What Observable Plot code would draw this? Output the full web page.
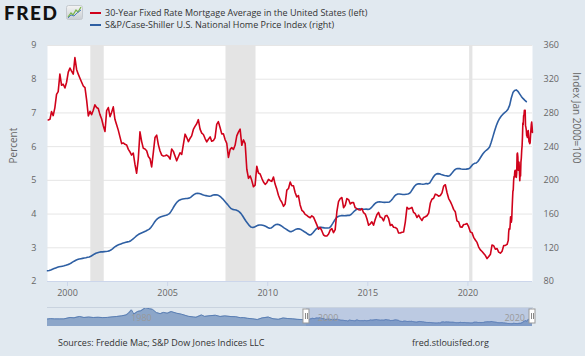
<!DOCTYPE html>
<html>
<head>
<meta charset="utf-8">
<script src="https://cdn.jsdelivr.net/npm/d3@7"></script>
<script src="https://cdn.jsdelivr.net/npm/@observablehq/plot@0.6"></script>
<style>
  html, body { margin: 0; padding: 0; background: #e1e9f0; }
  #chart { position: relative; width: 585px; height: 356px; overflow: hidden; background: #e1e9f0;
           font-family: "Open Sans", sans-serif; color: #333; }
  .logo { position: absolute; left: 4px; top: 1px; font-family: "Lato", sans-serif; font-weight: 900;
          font-size: 19px; letter-spacing: 1.5px; color: #111; line-height: 24px; }
  .logo-icon { position: absolute; left: 66px; top: 5px; }
  .legend { position: absolute; left: 90px; font-size: 9px; line-height: 12px; white-space: nowrap; }
  .legend .swatch { display: inline-block; width: 11px; height: 0; border-top: 2px solid; vertical-align: middle;
                    margin-right: 4px; position: relative; top: -1px; }
  .footer { position: absolute; top: 337px; font-size: 9px; line-height: 12px; color: #333; white-space: nowrap; }
  #main { position: absolute; left: 0; top: 0; }
  #nav { position: absolute; left: 0; top: 306px; }
</style>
</head>
<body>
<div id="chart">
  <div class="logo">FRED</div>
  <svg class="logo-icon" width="17" height="15" viewBox="0 0 17 15">
    <defs>
      <linearGradient id="ic" x1="0" y1="0" x2="0" y2="1">
        <stop offset="0" stop-color="#f4f4f4"/><stop offset="1" stop-color="#c9ced3"/>
      </linearGradient>
    </defs>
    <rect x="0.5" y="0.5" width="16" height="14" rx="2" fill="url(#ic)" stroke="#c4c9ce"/>
    <polyline points="2,12 5,8 7,10 10,5 12,7 15,2" fill="none" stroke="#7ab648" stroke-width="1.2"/>
    <polyline points="2,13 5,10 8,11 11,8 15,5" fill="none" stroke="#4f7fb8" stroke-width="1"/>
  </svg>
  <div class="legend" style="top:7px"><span class="swatch" style="border-color:#d0021b"></span>30-Year Fixed Rate Mortgage Average in the United States (left)</div>
  <div class="legend" style="top:19px"><span class="swatch" style="border-color:#2e5fa3"></span>S&amp;P/Case-Shiller U.S. National Home Price Index (right)</div>
  <div id="main"></div>
  <div id="nav"></div>
  <div class="footer" style="left:58px">Sources: Freddie Mac; S&amp;P Dow Jones Indices LLC</div>
  <div class="footer" style="left:412px">fred.stlouisfed.org</div>
</div>
<script>
// 30-year fixed mortgage rate, percent, one value per month from Jan 1999 to Dec 2021
const mortgageMonthly = [
  6.79, 6.81, 7.04, 6.92, 7.15, 7.55, 7.63, 8.15, 7.82, 7.85, 7.74, 7.91,
  8.21, 8.33, 8.24, 8.15, 8.64, 8.29, 8.15, 8.03, 7.91, 7.80, 7.75, 7.38,
  6.91, 7.05, 6.95, 7.08, 7.24, 7.16, 7.13, 6.95, 6.82, 6.62, 6.45, 7.07,
  7.16, 6.89, 7.01, 7.18, 6.81, 6.65, 6.49, 6.29, 6.09, 6.11, 6.07, 6.05,
  5.92, 5.84, 5.75, 5.81, 5.48, 5.21, 5.63, 6.44, 6.15, 5.95, 5.93, 5.88,
  5.71, 5.64, 5.40, 5.83, 6.27, 6.34, 6.06, 5.87, 5.75, 5.72, 5.73, 5.75,
  5.71, 5.63, 5.93, 5.86, 5.72, 5.58, 5.70, 5.82, 5.77, 6.07, 6.37, 6.27,
  6.15, 6.25, 6.32, 6.51, 6.60, 6.68, 6.80, 6.52, 6.40, 6.36, 6.24, 6.14,
  6.22, 6.29, 6.16, 6.18, 6.26, 6.66, 6.74, 6.57, 6.38, 6.38, 6.21, 6.10,
  5.68, 5.92, 5.97, 5.92, 6.04, 6.32, 6.43, 6.52, 6.04, 6.20, 6.09, 5.33,
  5.06, 5.13, 5.00, 4.81, 4.86, 5.42, 5.22, 5.19, 5.06, 4.95, 4.88, 4.93,
  5.03, 4.99, 4.97, 5.10, 4.89, 4.74, 4.56, 4.43, 4.35, 4.23, 4.30, 4.71,
  4.76, 4.95, 4.84, 4.84, 4.64, 4.51, 4.55, 4.27, 4.11, 4.07, 3.99, 3.96,
  3.92, 3.89, 3.95, 3.91, 3.80, 3.68, 3.55, 3.60, 3.50, 3.38, 3.35, 3.35,
  3.41, 3.53, 3.57, 3.45, 3.54, 4.07, 4.37, 4.46, 4.49, 4.19, 4.26, 4.46,
  4.43, 4.30, 4.34, 4.34, 4.19, 4.16, 4.13, 4.12, 4.16, 4.04, 4.00, 3.86,
  3.67, 3.71, 3.77, 3.67, 3.84, 3.98, 4.05, 3.91, 3.89, 3.80, 3.94, 3.96,
  3.87, 3.66, 3.69, 3.61, 3.60, 3.57, 3.44, 3.44, 3.46, 3.47, 3.77, 4.20,
  4.15, 4.17, 4.20, 4.05, 4.01, 3.90, 3.97, 3.88, 3.81, 3.90, 3.92, 3.95,
  4.03, 4.33, 4.44, 4.47, 4.59, 4.57, 4.53, 4.55, 4.63, 4.83, 4.87, 4.64,
  4.46, 4.37, 4.27, 4.14, 4.07, 3.80, 3.77, 3.62, 3.61, 3.69, 3.70, 3.72,
  3.62, 3.47, 3.45, 3.31, 3.23, 3.16, 3.02, 2.94, 2.89, 2.83, 2.77, 2.68,
  2.74, 2.81, 3.08, 3.06, 2.96, 2.98, 2.87, 2.84, 2.90, 3.07, 3.07, 3.10
];

// Weekly readings of the same rate, Jan 2022 to Mar 2023
const mortgageWeeklyDates = [
  "2022-01-06","2022-01-13","2022-01-20","2022-01-27","2022-02-03","2022-02-10","2022-02-17","2022-02-24",
  "2022-03-03","2022-03-10","2022-03-17","2022-03-24","2022-03-31","2022-04-07","2022-04-14","2022-04-21",
  "2022-04-28","2022-05-05","2022-05-12","2022-05-19","2022-05-26","2022-06-02","2022-06-09","2022-06-16",
  "2022-06-23","2022-06-30","2022-07-07","2022-07-14","2022-07-21","2022-07-28","2022-08-04","2022-08-11",
  "2022-08-18","2022-08-25","2022-09-01","2022-09-08","2022-09-15","2022-09-22","2022-09-29","2022-10-06",
  "2022-10-13","2022-10-20","2022-10-27","2022-11-03","2022-11-10","2022-11-17","2022-11-23","2022-12-01",
  "2022-12-08","2022-12-15","2022-12-22","2022-12-29","2023-01-05","2023-01-12","2023-01-19","2023-01-26",
  "2023-02-02","2023-02-09","2023-02-16","2023-02-23","2023-03-02","2023-03-09","2023-03-16","2023-03-23"
];
const mortgageWeeklyRates = [
  3.22, 3.45, 3.56, 3.55, 3.55, 3.69, 3.92, 3.89,
  3.76, 3.85, 4.16, 4.42, 4.67, 4.72, 5.00, 5.11,
  5.10, 5.27, 5.30, 5.25, 5.10, 5.09, 5.23, 5.78,
  5.81, 5.70, 5.30, 5.51, 5.54, 5.30, 4.99, 5.22,
  5.13, 5.55, 5.66, 5.89, 6.02, 6.29, 6.70, 6.66,
  6.92, 6.94, 7.08, 6.95, 7.08, 6.61, 6.58, 6.49,
  6.33, 6.31, 6.27, 6.42, 6.48, 6.33, 6.15, 6.13,
  6.09, 6.12, 6.32, 6.50, 6.65, 6.73, 6.60, 6.42
];

// S&P/Case-Shiller U.S. National Home Price Index (Jan 2000 = 100), monthly, Jan 1999 to Dec 2022
const homePriceIndex = [
  92.7, 93.0, 93.6, 94.5, 95.3, 96.1, 96.8, 97.4, 97.8, 98.2, 98.6, 99.2,
  100.0, 100.6, 101.6, 102.9, 104.1, 105.2, 106.0, 106.6, 107.0, 107.4, 107.8, 108.2,
  108.7, 109.1, 109.9, 111.1, 112.4, 113.5, 114.2, 114.8, 115.1, 115.2, 115.4, 115.6,
  115.9, 116.3, 117.3, 118.8, 120.4, 121.9, 123.0, 123.9, 124.6, 125.3, 125.9, 126.5,
  127.0, 127.4, 128.4, 129.9, 131.6, 133.4, 135.0, 136.3, 137.3, 138.2, 139.1, 140.0,
  141.0, 142.1, 144.1, 146.9, 149.9, 152.6, 154.6, 155.9, 156.8, 157.5, 158.1, 158.6,
  159.3, 160.5, 162.9, 166.2, 169.6, 172.6, 174.9, 176.5, 177.4, 177.9, 178.2, 178.4,
  178.6, 179.0, 180.2, 181.9, 183.4, 184.4, 184.6, 184.4, 183.7, 182.9, 182.3, 181.9,
  181.5, 181.1, 181.4, 182.2, 182.8, 183.0, 182.6, 181.6, 180.0, 178.1, 175.8, 173.5,
  171.2, 168.6, 166.6, 165.6, 165.2, 164.8, 164.0, 162.6, 160.5, 157.7, 154.5, 151.5,
  148.9, 146.2, 144.6, 144.0, 144.5, 145.6, 146.6, 147.1, 147.1, 146.8, 146.1, 145.2,
  144.1, 143.1, 143.4, 144.9, 146.6, 147.6, 147.8, 147.3, 146.2, 144.8, 143.4, 142.2,
  140.8, 139.5, 139.1, 139.8, 141.0, 142.1, 142.6, 142.4, 141.6, 140.3, 139.0, 137.9,
  136.3, 135.1, 135.6, 137.5, 140.0, 142.3, 143.7, 144.3, 144.2, 143.9, 143.6, 143.5,
  143.4, 143.8, 145.7, 148.9, 152.3, 155.1, 156.9, 157.8, 158.1, 158.1, 158.0, 158.2,
  158.4, 158.5, 159.5, 161.5, 163.6, 165.2, 166.0, 166.2, 166.1, 165.9, 165.8, 165.9,
  165.6, 165.9, 167.3, 169.5, 171.8, 173.5, 174.4, 174.6, 174.4, 174.1, 173.9, 174.0,
  174.0, 174.4, 176.1, 178.6, 181.2, 183.0, 183.8, 183.9, 183.6, 183.3, 183.2, 183.6,
  183.8, 184.6, 186.9, 190.0, 193.0, 195.0, 195.8, 195.9, 195.6, 195.4, 195.6, 196.3,
  195.8, 196.8, 199.7, 203.0, 205.8, 207.5, 208.0, 207.7, 207.0, 206.4, 205.8, 205.4,
  205.0, 205.5, 207.4, 210.0, 212.3, 213.7, 214.1, 213.9, 213.5, 213.2, 213.1, 213.3,
  213.6, 214.4, 216.6, 219.0, 220.2, 220.6, 222.4, 225.4, 228.6, 231.5, 233.9, 235.7,
  237.3, 239.9, 245.1, 251.9, 258.6, 264.8, 269.7, 273.4, 276.3, 278.5, 280.3, 282.0,
  284.5, 289.3, 297.4, 304.1, 306.6, 307.3, 305.7, 302.6, 299.6, 297.2, 295.2, 293.4
];

// Longer mortgage-rate history shown in the navigator strip (1971-1998)
const historyDates = [
  "1971-04","1971-08","1972-01","1972-07","1973-01","1973-09","1974-02","1974-09","1975-03","1975-09",
  "1976-03","1976-09","1977-03","1977-09","1978-03","1978-09","1979-03","1979-09","1979-12","1980-04",
  "1980-07","1980-12","1981-04","1981-10","1982-03","1982-07","1982-12","1983-05","1983-09","1984-02",
  "1984-07","1985-02","1985-08","1986-02","1986-05","1986-12","1987-03","1987-10","1988-02","1988-09",
  "1989-04","1989-10","1990-04","1990-12","1991-06","1991-12","1992-04","1992-09","1993-04","1993-10",
  "1994-04","1994-12","1995-06","1996-01","1996-07","1997-01","1997-07","1998-01","1998-10"
];
const historyRates = [
  7.31, 7.70, 7.44, 7.42, 7.44, 8.80, 8.46, 9.80, 8.80, 9.20,
  8.80, 9.00, 8.70, 8.90, 9.40, 9.80, 10.40, 11.30, 12.90, 16.30,
  12.20, 14.80, 15.30, 18.45, 17.40, 16.80, 13.60, 12.60, 13.80, 13.00,
  14.60, 13.00, 12.10, 10.70, 10.00, 9.30, 9.00, 11.30, 9.90, 10.60,
  11.00, 9.80, 10.40, 9.70, 9.60, 8.60, 8.70, 8.00, 7.50, 6.80,
  8.40, 9.20, 7.60, 7.00, 8.30, 7.80, 7.50, 6.99, 6.70
];

// NBER recessions (shaded)
const recessionStarts = ["2001-03-01", "2007-12-01", "2020-02-01"];
const recessionEnds = ["2001-11-01", "2009-06-01", "2020-04-01"];

const percentTicks = [2, 3, 4, 5, 6, 7, 8, 9];
const indexTicks = [80, 120, 160, 200, 240, 280, 320, 360];
const yearTicks = [2000, 2005, 2010, 2015, 2020];
const navigatorYears = [1980, 2000, 2020];
const viewStart = "1999-01-01";
const viewEnd = "2023-03-24";
const historyStart = "1971-04-01";

// ---- assemble tables ----
const utc = (y, m, d = 1) => new Date(Date.UTC(y, m, d));
const parseDay = d3.utcParse("%Y-%m-%d");
const parseMonth = d3.utcParse("%Y-%m");

const mortgage = [
  ...mortgageMonthly.map((v, i) => ({date: utc(1999, i, 15), value: v})),
  ...mortgageWeeklyDates.map((d, i) => ({date: parseDay(d), value: mortgageWeeklyRates[i]}))
];
const homePrices = homePriceIndex.map((v, i) => ({date: utc(1999, i, 1), value: v}));
const history = [
  ...historyDates.map((d, i) => ({date: parseMonth(d), value: historyRates[i]})),
  ...mortgage
];
const recessions = recessionStarts.map((s, i) => ({start: parseDay(s), end: parseDay(recessionEnds[i])}));

// Right-axis index values share the left-axis scale: 80 ↔ 2%, 360 ↔ 9%
const indexToPct = v => 2 + (v - 80) / 40;
const pctToIndex = p => Math.round(80 + (p - 2) * 40);

const RED = "#d0021b", BLUE = "#2e5fa3", TICK = "#666";
const font = {fontFamily: "'Open Sans', sans-serif", fontSize: "9px", background: "transparent", overflow: "visible"};

const main = Plot.plot({
  width: 585, height: 300,
  marginLeft: 47, marginRight: 53, marginTop: 45, marginBottom: 19,
  style: font,
  x: {type: "utc", domain: [parseDay(viewStart), parseDay(viewEnd)]},
  y: {domain: [2, 9]},
  marks: [
    Plot.frame({fill: "white", stroke: null}),
    Plot.gridY(percentTicks, {stroke: "#e6e6e6", strokeOpacity: 1}),
    Plot.rect(recessions, {x1: "start", x2: "end", fill: "#e4e4e4"}),
    Plot.ruleY([2], {stroke: "#ccd6eb"}),
    Plot.axisX(yearTicks.map(y => utc(y, 0, 1)), {
      tickSize: 5, tickPadding: 3, stroke: "#ccd6eb", fill: TICK, tickFormat: d3.utcFormat("%Y"), label: null
    }),
    Plot.axisY(percentTicks, {anchor: "left", tickSize: 0, tickPadding: 11, fill: TICK, label: null}),
    Plot.axisY(indexTicks.map(indexToPct), {
      anchor: "right", tickSize: 0, tickPadding: 11, fill: TICK, label: null, tickFormat: pctToIndex
    }),
    Plot.text(["Percent"], {frameAnchor: "left", dx: -34, rotate: -90, fill: TICK, fontSize: 10}),
    Plot.text(["Index Jan 2000=100"], {frameAnchor: "right", dx: 44, rotate: 90, fill: TICK, fontSize: 10}),
    Plot.lineY(homePrices, {x: "date", y: d => indexToPct(d.value), stroke: BLUE, strokeWidth: 1.6}),
    Plot.lineY(mortgage, {x: "date", y: "value", stroke: RED, strokeWidth: 1.6})
  ]
});
document.getElementById("main").append(main);

// ---- navigator strip ----
const selection = [{start: parseDay(viewStart), end: parseDay(viewEnd)}];
const handles = [parseDay(viewStart), parseDay(viewEnd)];
const nav = Plot.plot({
  width: 585, height: 21,
  marginLeft: 47, marginRight: 53, marginTop: 1, marginBottom: 1,
  style: font,
  x: {type: "utc", domain: [parseDay(historyStart), parseDay(viewEnd)], axis: null},
  y: {domain: [0, 18.6], axis: null},
  marks: [
    Plot.areaY(history, {x: "date", y: "value", fill: "#8ca6c9", curve: "linear"}),
    Plot.lineY(history, {x: "date", y: "value", stroke: "#5a7fb4", strokeWidth: 1}),
    Plot.rect(selection, {x1: "start", x2: "end", fill: "#6685c2", fillOpacity: 0.3}),
    Plot.frame({anchor: "top", stroke: "#c9d3df"}),
    Plot.text(navigatorYears, {
      x: y => utc(y, 0, 1), text: d => String(d), frameAnchor: "bottom", dy: -6,
      textAnchor: "start", dx: 2, fill: "#999", fontSize: 9
    }),
    Plot.rect(handles, {x1: d => d, x2: d => d, insetLeft: -3, insetRight: -3, insetTop: 2, insetBottom: 3,
      fill: "white", stroke: "#999", strokeWidth: 1}),
    Plot.ruleX(handles, {x: d => d, dx: -1, insetTop: 6, insetBottom: 7, stroke: "#888"}),
    Plot.ruleX(handles, {x: d => d, dx: 1, insetTop: 6, insetBottom: 7, stroke: "#888"})
  ]
});
document.getElementById("nav").append(nav);
</script>
</body>
</html>
